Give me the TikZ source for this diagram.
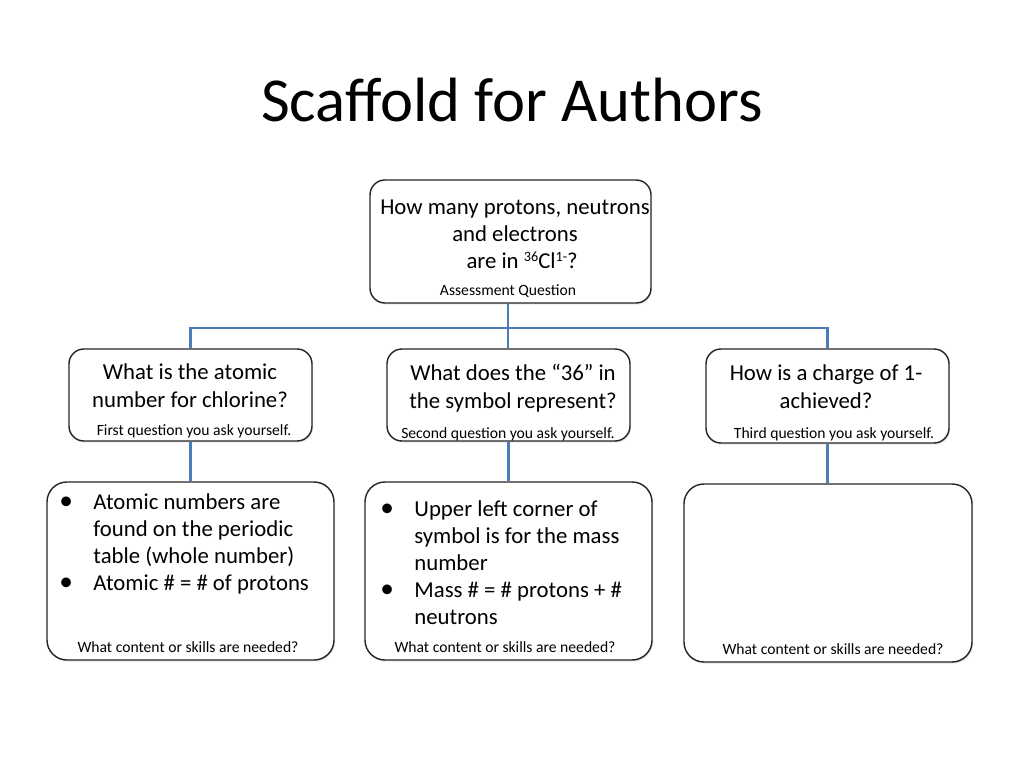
\documentclass[tikz,border=0pt]{standalone}
\usepackage{fontspec}
\setmainfont{Carlito}
\usetikzlibrary{fit}
\usetikzlibrary{shadows}
\definecolor{linkblue}{RGB}{74,126,187}
\tikzset{
  box/.style={draw=black!85, line width=1pt, inner sep=0pt, fill=white,
    drop shadow={opacity=0.18, shadow xshift=0.8pt, shadow yshift=-1.2pt}},
  link/.style={draw=linkblue, line width=1.5pt},
  big/.style={font=\fontsize{16}{19}\selectfont, inner sep=0pt},
  small/.style={font=\fontsize{11}{13}\selectfont, inner sep=0pt},
}
\newenvironment{bullets}{\begin{tabular}[t]{@{}p{24pt}@{}l@{}}}{\end{tabular}}
\newcommand{\bul}{\scalebox{1.2}{\textbullet}}
\newcommand{\sups}[1]{\raisebox{5.5pt}{\fontsize{10}{12}\selectfont #1}}
\begin{document}
\begin{tikzpicture}[x=0.703125pt, y=-0.703125pt]
\useasboundingbox (0,0) rectangle (1024,768);
\node[font=\fontsize{44}{53}\selectfont] (title) at (512,100) {Scaffold for Authors};

\node[box, rounded corners=10.5pt, fit={(370,180) (651,303)}] (top) {};
\node[box, rounded corners=10.5pt, fit={(69,349) (312,441)}] (q1) {};
\node[box, rounded corners=10.5pt, fit={(387,349) (630,441)}] (q2) {};
\node[box, rounded corners=10.5pt, fit={(706,349) (949,443)}] (q3) {};
\node[box, rounded corners=14pt, fit={(47,482) (334,660)}] (c1) {};
\node[box, rounded corners=14pt, fit={(365,482) (652,660)}] (c2) {};
\node[box, rounded corners=14pt, fit={(684,484) (972,662)}] (c3) {};

\coordinate (hub) at (508,328);
\draw[link] (top.south -| hub) -- (hub);
\draw[link] (q1.north) |- (hub) -| (q3.north);
\draw[link] (hub) -- (hub |- q2.north);
\draw[link] (q1.south) -- (q1.south |- c1.north);
\draw[link] (q2.south) -- (q2.south |- c2.north);
\draw[link] (q3.south) -- (q3.south |- c3.north);

\node[big, align=center, anchor=base] (toptxt) at (515,269) {How many protons, neutrons\\and electrons\\\hspace*{10pt}are in \sups{36}Cl\sups{1-}?};
\node[small, anchor=base] (toplab) at (508,296) {Assessment Question};

\node[big, align=center, anchor=base] (q1txt) at (190,407) {What is the atomic\\number for chlorine?};
\node[small, anchor=base] (q1lab) at (194,435) {First question you ask yourself.};
\node[big, align=center, anchor=base] (q2txt) at (513,408) {What does the “36” in\\the symbol represent?};
\node[small, anchor=base] (q2lab) at (508,438) {Second question you ask yourself.};
\node[big, align=center, anchor=base] (q3txt) at (826,408) {How is a charge of 1-\\achieved?};
\node[small, anchor=base] (q3lab) at (834,438) {Third question you ask yourself.};

\node[big, anchor=base west] (c1txt) at (59,509) {\begin{bullets}
\bul & Atomic numbers are\\
 & found on the periodic\\
 & table (whole number)\\
\bul & Atomic \# = \# of protons
\end{bullets}};
\node[small, anchor=base] (c1lab) at (188,652) {What content or skills are needed?};
\node[big, anchor=base west] (c2txt) at (380,516) {\begin{bullets}
\bul & Upper left corner of\\
 & symbol is for the mass\\
 & number\\
\bul & Mass \# = \# protons + \#\\
 & neutrons
\end{bullets}};
\node[small, anchor=base] (c2lab) at (505,652) {What content or skills are needed?};
\node[small, anchor=base] (c3lab) at (833,654) {What content or skills are needed?};
\end{tikzpicture}
\end{document}
